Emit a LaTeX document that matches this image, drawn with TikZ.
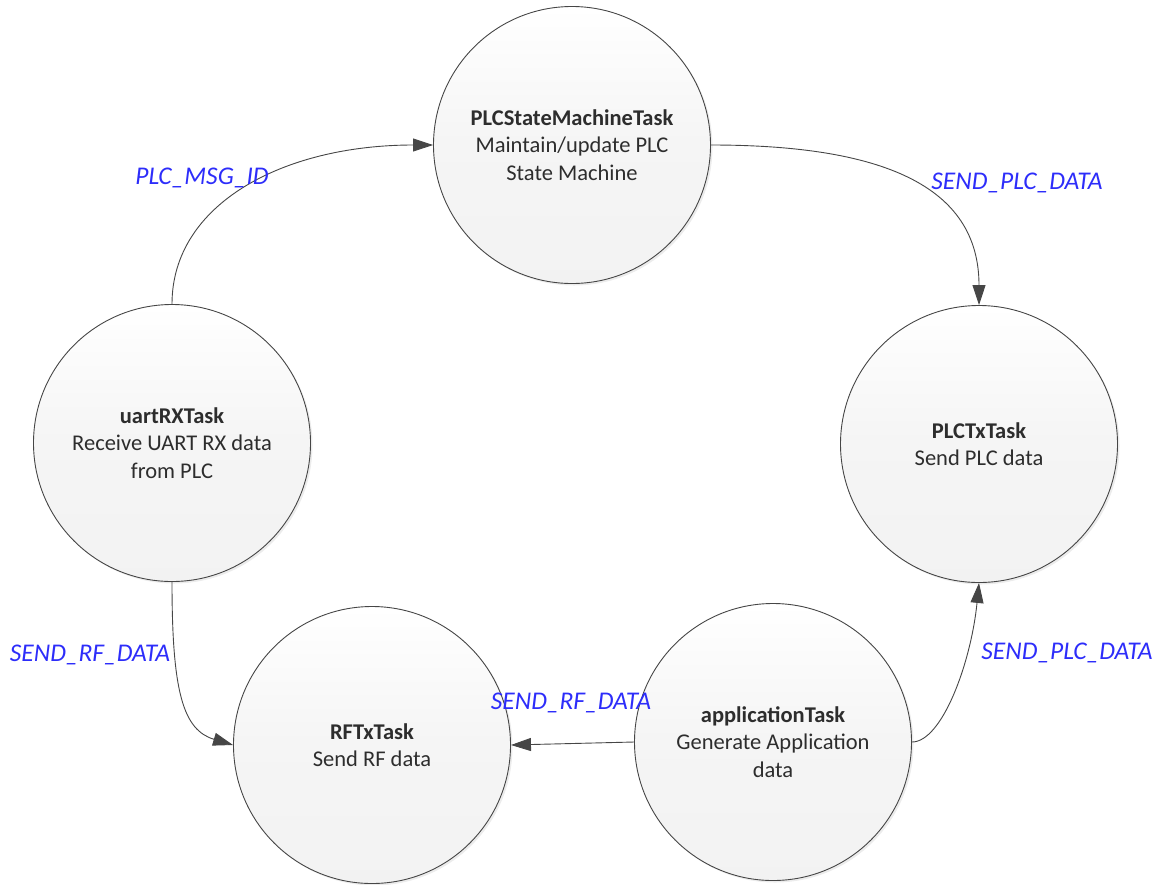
\documentclass[tikz,border=0pt]{standalone}
\usepackage{fontspec}
\setmainfont{Carlito}
\usetikzlibrary{arrows.meta,shadows}
\definecolor{lblblue}{RGB}{45,45,250}
\definecolor{edgegray}{RGB}{70,70,70}
\definecolor{txtgray}{RGB}{45,45,45}
\begin{document}
\begin{tikzpicture}[x=1pt,y=-1pt,
  task/.style={circle, draw=edgegray, line width=0.9pt, minimum size=277pt, inner sep=0pt,
    top color=white, bottom color=black!5, middle color=black!4,
    drop shadow={shadow xshift=2pt, shadow yshift=-2pt, opacity=0.15},
    align=center, text=txtgray, font=\fontsize{22.5}{27.5}\selectfont},
  flow/.style={draw=edgegray, line width=0.9pt, -{Triangle[length=20pt,width=13pt]}},
  lbl/.style={text=lblblue, inner sep=0pt, font=\fontsize{25.5}{30}\selectfont\itshape}]
\useasboundingbox (0,0) rectangle (1158,884);

\node[task] (sm)  at (572,145) {\textbf{PLCStateMachineTask}\\Maintain/update PLC\\State Machine};
\node[task] (uart) at (172,443) {\textbf{uartRXTask}\\Receive UART RX data\\from PLC};
\node[task] (plctx) at (979,444) {\textbf{PLCTxTask}\\Send PLC data};
\node[task] (rftx) at (372,745) {\textbf{RFTxTask}\\Send RF data};
\node[task] (app) at (773,742) {\textbf{applicationTask}\\Generate Application\\data};

\draw[flow] (uart.north) .. controls +(0,-100) and +(-150,0) .. (sm.west);
\draw[flow] (sm.east) .. controls +(170,0) and +(0,-120) .. (plctx.north);
\draw[flow] (uart.south) .. controls +(0,110) and +(-50,-15) .. (rftx.west);
\draw[flow] (app.west) -- (rftx.east);
\draw[flow] (app.east) .. controls +(30,0) and +(-8,80) .. (plctx.south);

\node[lbl] (l1) at (202,178) {PLC\_MSG\_ID};
\node[lbl] (l2) at (1017,183) {SEND\_PLC\_DATA};
\node[lbl] (l3) at (90,655) {SEND\_RF\_DATA};
\node[lbl] (l4) at (571,703) {SEND\_RF\_DATA};
\node[lbl] (l5) at (1067,653) {SEND\_PLC\_DATA};
\end{tikzpicture}
\end{document}
